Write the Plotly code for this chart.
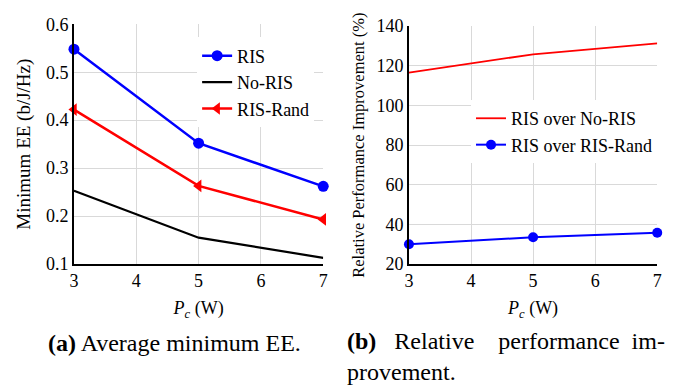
import plotly.graph_objects as go

pc = [3, 5, 7]
ee_ris = [0.548, 0.352, 0.262]
ee_noris = [0.253, 0.155, 0.113]
ee_rand = [0.422, 0.263, 0.193]

imp_noris = [116.5, 125.8, 131.3]
imp_rand = [30.0, 33.5, 35.8]

FONT = "Liberation Serif"
GRID = "#d9d9d9"

fig = go.Figure()

fig.add_trace(go.Scatter(x=pc, y=ee_ris, name="RIS", mode="lines+markers",
                         line=dict(color="#0000ff", width=2.5),
                         marker=dict(symbol="circle", size=11, color="#0000ff"),
                         cliponaxis=False, xaxis="x", yaxis="y", legend="legend"))
fig.add_trace(go.Scatter(x=pc, y=ee_noris, name="No-RIS", mode="lines",
                         line=dict(color="#000000", width=2.2),
                         cliponaxis=False, xaxis="x", yaxis="y", legend="legend"))
fig.add_trace(go.Scatter(x=pc, y=ee_rand, name="RIS-Rand", mode="lines+markers",
                         line=dict(color="#ff0000", width=2.5),
                         marker=dict(symbol="triangle-left", size=11, color="#ff0000"),
                         cliponaxis=False, xaxis="x", yaxis="y", legend="legend"))

fig.add_trace(go.Scatter(x=pc, y=imp_noris, name="RIS over No-RIS", mode="lines",
                         line=dict(color="#ff0000", width=1.8),
                         cliponaxis=False, xaxis="x2", yaxis="y2", legend="legend2"))
fig.add_trace(go.Scatter(x=pc, y=imp_rand, name="RIS over RIS-Rand", mode="lines+markers",
                         line=dict(color="#0000ff", width=2),
                         marker=dict(symbol="circle", size=10, color="#0000ff"),
                         cliponaxis=False, xaxis="x2", yaxis="y2", legend="legend2"))

W, H = 678, 385
def px(x):
    return x / W
def py(y):
    return 1 - y / H

axis_common = dict(showgrid=True, gridcolor=GRID, gridwidth=1, zeroline=False,
                   showline=True, linecolor="black", linewidth=1.5,
                   ticks="", tickfont=dict(family=FONT, size=18, color="black"))

xtitle = dict(text="<i>P</i><sub><i>c</i></sub> (W)", font=dict(family=FONT, size=18, color="black"), standoff=11)

fig.update_layout(
    width=W, height=H, margin=dict(l=0, r=0, t=0, b=0),
    paper_bgcolor="white", plot_bgcolor="white",
    font=dict(family=FONT, color="black"),
    xaxis=dict(domain=[px(70), px(323)], range=[3, 7], dtick=1, anchor="y",
               title=xtitle, **axis_common),
    yaxis=dict(domain=[py(268), py(15)], range=[0.1, 0.6], dtick=0.1, tickformat=".1f",
               anchor="x", title=dict(text="Minimum EE (b/J/Hz)", standoff=10,
                                      font=dict(family=FONT, size=19, color="black")),
               **axis_common),
    xaxis2=dict(domain=[px(410), px(662)], range=[3, 7], dtick=1, anchor="y2",
                title=xtitle, **axis_common),
    yaxis2=dict(domain=[py(268), py(17)], range=[20, 140], dtick=20, anchor="x2",
                title=dict(text="Relative Performance Improvement (%)", standoff=8,
                           font=dict(family=FONT, size=16.5, color="black")),
                **axis_common),
    legend=dict(x=px(195), y=py(29), xanchor="left", yanchor="top",
                bgcolor="white", borderwidth=0,
                font=dict(family=FONT, size=18, color="black"),
                tracegroupgap=0, itemwidth=30),
    legend2=dict(x=px(473), y=py(95), xanchor="left", yanchor="top",
                 bgcolor="white", borderwidth=0,
                 font=dict(family=FONT, size=18, color="black"),
                 tracegroupgap=0, itemwidth=30),
    showlegend=True,
)

cap_font = dict(family=FONT, size=24, color="black")
NB = "\u00a0"
fig.add_annotation(text="<b>(a)</b> Average minimum EE.", x=px(42), y=py(351),
                   xref="paper", yref="paper", xanchor="left", yanchor="middle",
                   showarrow=False, font=cap_font)
cap_b = ("<b>(b)</b>" + NB * 3 + "Relative" + NB * 4 + "performance" + NB * 2 + "im-"
         + "<br>provement.")
fig.add_annotation(text=cap_b, x=px(345), y=py(365), align="left",
                   xref="paper", yref="paper", xanchor="left", yanchor="middle",
                   showarrow=False, font=cap_font)

fig.write_html("out.html")
